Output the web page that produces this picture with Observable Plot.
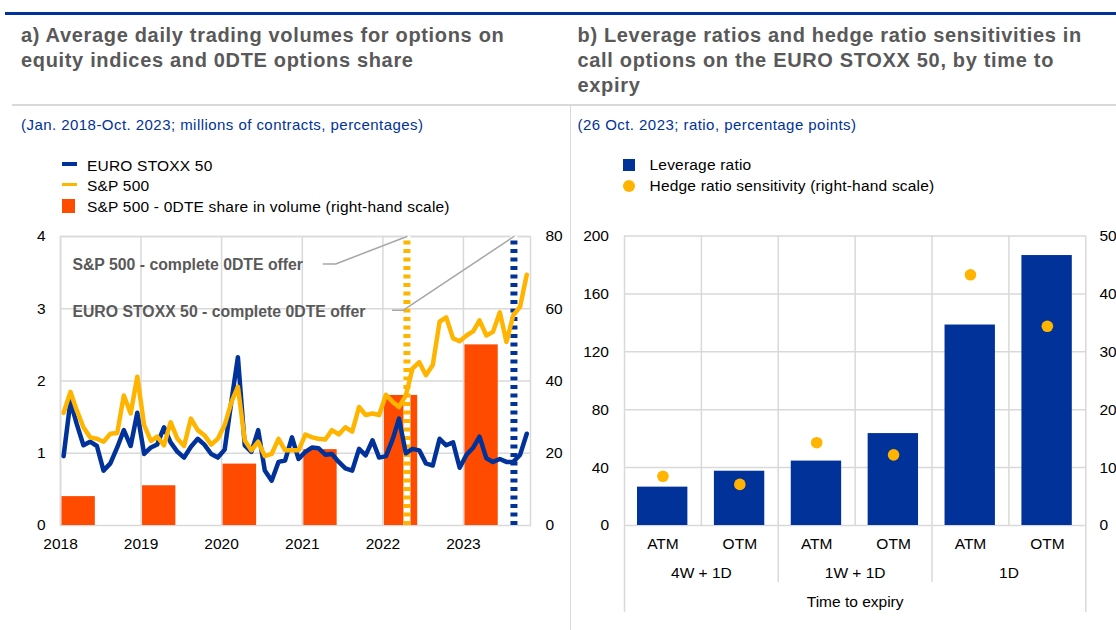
<!DOCTYPE html>
<html>
<head>
<meta charset="utf-8">
<script src="https://cdn.jsdelivr.net/npm/d3@7"></script>
<script src="https://cdn.jsdelivr.net/npm/@observablehq/plot@0.6"></script>
<style>
  body { margin: 0; background: #fff; font-family: "Liberation Sans", Arial, sans-serif; }
  #page { position: relative; width: 1116px; height: 630px; overflow: hidden; background: #fff; }
  .abs { position: absolute; }
  .title { font-size: 20px; letter-spacing: 0.67px; line-height: 25px; font-weight: bold; color: #595959; white-space: nowrap; }
  .sub { font-size: 15px; letter-spacing: 0.45px; line-height: 16px; color: #003299; white-space: nowrap; }
  .leg { font-size: 15.5px; letter-spacing: 0.2px; line-height: 21px; height: 21px; color: #000; white-space: nowrap; }
  .chart svg { display: block; }
</style>
</head>
<body>
<div id="page">
  <div class="abs" style="left:5px;top:12px;width:1111px;height:2.5px;background:#003299"></div>
  <div class="abs" style="left:12px;top:104px;width:1104px;height:2px;background:#d9d9d9"></div>
  <div class="abs" style="left:569.5px;top:105px;width:1.5px;height:525px;background:#d9d9d9;z-index:3"></div>

  <div class="abs title" style="left:21px;top:22.5px">a) Average daily trading volumes for options on<br>equity indices and 0DTE options share</div>
  <div class="abs sub" style="left:21px;top:117px">(Jan. 2018-Oct. 2023; millions of contracts, percentages)</div>

  <div class="abs" style="left:61.5px;top:162.3px;width:15px;height:4px;background:#003299"></div>
  <div class="abs leg" style="left:87px;top:154.8px">EURO STOXX 50</div>
  <div class="abs" style="left:61.5px;top:183.3px;width:15px;height:3px;background:#FFB400"></div>
  <div class="abs leg" style="left:87px;top:174.8px">S&amp;P 500</div>
  <div class="abs" style="left:61.5px;top:199.3px;width:13.5px;height:13.5px;background:#FF4B00"></div>
  <div class="abs leg" style="left:87px;top:196.4px">S&amp;P 500 - 0DTE share in volume (right-hand scale)</div>

  <div class="abs title" style="left:577.5px;top:22.5px">b) Leverage ratios and hedge ratio sensitivities in<br>call options on the EURO STOXX 50, by time to<br>expiry</div>
  <div class="abs sub" style="left:577.5px;top:117px">(26 Oct. 2023; ratio, percentage points)</div>

  <div class="abs" style="left:623px;top:159.3px;width:12px;height:11.5px;background:#003299"></div>
  <div class="abs leg" style="left:649.5px;top:154.2px">Leverage ratio</div>
  <div class="abs" style="left:623.2px;top:179.9px;width:12px;height:12px;border-radius:50%;background:#FFB400"></div>
  <div class="abs leg" style="left:649.5px;top:174.8px">Hedge ratio sensitivity (right-hand scale)</div>

  <div id="left" class="abs chart" style="left:0px;top:220px"></div>
  <div id="right" class="abs chart" style="left:570px;top:220px"></div>
</div>
<script>
// ---------- Panel a) data ----------
const periodStart = new Date(Date.UTC(2018, 0, 1));
const periodEnd = new Date(Date.UTC(2023, 10, 1));
const months = d3.utcMonths(periodStart, periodEnd); // Jan 2018 .. Oct 2023

const euroStoxx50 = [
  0.96, 1.72, 1.41, 1.11, 1.16, 1.10, 0.76, 0.86, 1.08, 1.32, 1.10, 1.56,
  0.99, 1.08, 1.12, 1.36, 1.15, 1.02, 0.94, 1.09, 1.20, 1.12, 0.99, 0.94,
  1.05, 1.73, 2.33, 1.11, 1.02, 1.32, 0.76, 0.62, 0.88, 0.90, 1.22, 0.92,
  1.02, 1.08, 1.07, 0.98, 0.99, 0.88, 0.79, 0.76, 1.06, 0.97, 1.18, 0.94,
  0.96, 1.20, 1.48, 1.00, 1.06, 1.04, 0.86, 0.83, 1.20, 1.11, 1.15, 0.80,
  0.98, 1.08, 1.23, 0.93, 0.88, 0.92, 0.88, 0.88, 0.98, 1.27
];
const sp500 = [
  1.56, 1.85, 1.60, 1.36, 1.22, 1.20, 1.16, 1.27, 1.28, 1.80, 1.55, 2.06,
  1.39, 1.17, 1.23, 1.11, 1.43, 1.20, 1.10, 1.48, 1.32, 1.25, 1.12, 1.20,
  1.39, 1.71, 1.92, 1.18, 1.04, 1.16, 0.96, 0.99, 1.20, 1.04, 1.04, 1.04,
  1.26, 1.22, 1.20, 1.19, 1.32, 1.26, 1.36, 1.30, 1.64, 1.53, 1.55, 1.53,
  1.81, 1.71, 1.64, 1.80, 2.17, 2.26, 2.08, 2.22, 2.82, 2.88, 2.59, 2.55,
  2.63, 2.69, 2.84, 2.63, 2.68, 2.95, 2.54, 2.91, 3.03, 3.47
];
const shareYears = [2018, 2019, 2020, 2021, 2022, 2023];
const shareValues = [8, 11, 17, 21, 36, 50]; // % (right-hand scale)
const yearTicks = [2018, 2019, 2020, 2021, 2022, 2023];
const leftTicks = [0, 1, 2, 3, 4];
const rightPerLeft = 20; // 80 / 4

const offerLabels = ["S&P 500 - complete 0DTE offer", "EURO STOXX 50 - complete 0DTE offer"];
const offerDates = [new Date(Date.UTC(2022, 3, 20)), new Date(Date.UTC(2023, 7, 18))];
const offerColors = ["#FFB400", "#003299"];

// ---------- Panel b) data ----------
const expiryGroups = ["4W + 1D", "1W + 1D", "1D"];
const moneyness = ["ATM", "OTM", "ATM", "OTM", "ATM", "OTM"];
const leverageRatio = [26.5, 37.5, 44.5, 63.5, 138.5, 186.5];
const hedgeSensitivity = [8.5, 7.1, 14.3, 12.2, 43.3, 34.4];
const leverageTicks = [0, 40, 80, 120, 160, 200];
const rightPerLeftB = 0.25; // 50 / 200

// ---------- build panel a ----------
const mid = (m) => d3.utcDay.offset(m, 14);
const esRows = months.map((m, i) => ({date: mid(m), value: euroStoxx50[i]}));
const spRows = months.map((m, i) => ({date: mid(m), value: sp500[i]}));
const shareRows = shareYears.map((y, i) => ({
  x1: new Date(Date.UTC(y, 0, 1)),
  x2: new Date(Date.UTC(y, 5, 1)),
  v: shareValues[i] / rightPerLeft
}));
const yearDates = yearTicks.map(y => new Date(Date.UTC(y, 0, 1)));

// annotation leaders: from label end to top of each dashed line
const leaders = [
  {k: 0, x: new Date(Date.UTC(2021, 3, 6)), y: 3.62},
  {k: 0, x: new Date(Date.UTC(2021, 5, 1)), y: 3.62},
  {k: 0, x: offerDates[0], y: 4},
  {k: 1, x: new Date(Date.UTC(2022, 1, 14)), y: 2.98},
  {k: 1, x: new Date(Date.UTC(2022, 3, 4)), y: 2.98},
  {k: 1, x: offerDates[1], y: 4}
];
const labelRows = [
  {text: offerLabels[0], x: new Date(Date.UTC(2018, 1, 24)), y: 3.61},
  {text: offerLabels[1], x: new Date(Date.UTC(2018, 1, 24)), y: 2.96}
];

const grid = {stroke: "#d9d9d9", strokeOpacity: 1, strokeWidth: 1.5};
const font = '"Liberation Sans", Arial, sans-serif';

const left = Plot.plot({
  width: 570, height: 345,
  marginTop: 16, marginBottom: 40, marginLeft: 60, marginRight: 40,
  style: {fontFamily: font, fontSize: "15.5px", color: "#000", background: "transparent", overflow: "visible"},
  x: {type: "utc", domain: [periodStart, periodEnd]},
  y: {domain: [0, 4]},
  marks: [
    Plot.gridY([1, 2, 3, 4], grid),
    Plot.gridX(yearDates, grid),
    Plot.frame(grid),
    Plot.rectY(shareRows, {x1: "x1", x2: "x2", y1: 0, y2: "v", fill: "#FF4B00", insetLeft: 1.5, insetRight: -1.5}),
    Plot.ruleX([offerDates[0]], {y1: 0, y2: 4, stroke: "#fff", strokeWidth: 7}),
    Plot.ruleX([offerDates[0]], {y1: 0, y2: 4, stroke: offerColors[0], strokeWidth: 7, strokeDasharray: "4,4.5"}),
    Plot.ruleX([offerDates[1]], {y1: 0, y2: 4, stroke: "#fff", strokeWidth: 7}),
    Plot.ruleX([offerDates[1]], {y1: 0, y2: 4, stroke: offerColors[1], strokeWidth: 7, strokeDasharray: "4,4.5"}),
    Plot.line(leaders, {x: "x", y: "y", z: "k", stroke: "#a6a6a6", strokeWidth: 1.5}),
    Plot.text(labelRows, {x: "x", y: "y", text: "text", textAnchor: "start", fontWeight: "bold", fill: "#595959", fontSize: 15.8}),
    Plot.line(esRows, {x: "date", y: "value", stroke: "#003299", strokeWidth: 4.5, strokeLinejoin: "round"}),
    Plot.line(spRows, {x: "date", y: "value", stroke: "#FFB400", strokeWidth: 4.5, strokeLinejoin: "round"}),
    Plot.axisY(leftTicks, {anchor: "left", tickSize: 0, tickPadding: 15, label: null, tickFormat: d => String(d)}),
    Plot.axisY(leftTicks, {anchor: "right", tickSize: 0, tickPadding: 15, label: null, tickFormat: d => String(d * rightPerLeft)}),
    Plot.axisX(yearDates, {anchor: "bottom", tickSize: 0, tickPadding: 12, label: null, tickFormat: d3.utcFormat("%Y")})
  ]
});
document.getElementById("left").append(left);

// ---------- build panel b ----------
const idx = moneyness.map((d, i) => i);
const right = Plot.plot({
  width: 546, height: 400,
  marginTop: 15.5, marginBottom: 95, marginLeft: 54, marginRight: 30.7,
  style: {fontFamily: font, fontSize: "15.5px", color: "#000", background: "transparent", overflow: "visible"},
  x: {domain: [0, moneyness.length]},
  y: {domain: [0, 200]},
  marks: [
    Plot.gridY(leverageTicks.slice(1), grid),
    Plot.ruleX(idx.filter(i => i % 2 === 1), grid),
    Plot.ruleX(expiryGroups.slice(1).map((g, j) => 2 * (j + 1)), {...grid, insetBottom: -57}),
    Plot.ruleX([0, moneyness.length], {...grid, insetBottom: -87}),
    Plot.ruleY([0], grid),
    Plot.rectY(idx, {x1: i => i, x2: i => i + 1, y1: 0, y2: i => leverageRatio[i], fill: "#003299", insetLeft: 13, insetRight: 13.5}),
    Plot.dot(idx, {x: i => i + 0.5, y: i => hedgeSensitivity[i] / rightPerLeftB, r: 5.8, fill: "#FFB400", stroke: "none"}),
    Plot.axisY(leverageTicks, {anchor: "left", tickSize: 0, tickPadding: 15.5, label: null, tickFormat: d => String(d)}),
    Plot.axisY(leverageTicks, {anchor: "right", tickSize: 0, tickPadding: 13.7, label: null, tickFormat: d => String(d * rightPerLeftB)}),
    Plot.axisX(idx.map(i => i + 0.5), {anchor: "bottom", tickSize: 0, tickPadding: 12, label: null, tickFormat: d => moneyness[Math.floor(d)]}),
    Plot.text(expiryGroups, {x: (d, j) => 2 * j + 1, text: d => d, frameAnchor: "bottom", dy: 48, lineAnchor: "middle", fill: "#000"}),
    Plot.text(["Time to expiry"], {x: moneyness.length / 2, text: d => d, frameAnchor: "bottom", dy: 77, lineAnchor: "middle", fill: "#000"})
  ]
});
document.getElementById("right").append(right);
</script>
</body>
</html>
